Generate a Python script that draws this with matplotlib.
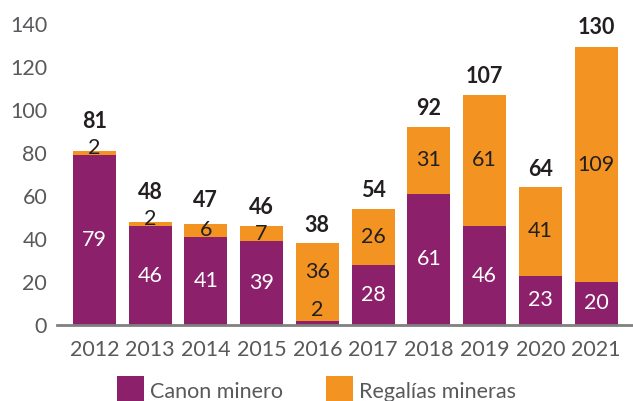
import matplotlib
matplotlib.use("Agg")
import matplotlib.pyplot as plt
from matplotlib.patches import Patch

plt.rcParams['font.family'] = ['Lato', 'DejaVu Sans']

years = ["2012", "2013", "2014", "2015", "2016", "2017", "2018", "2019", "2020", "2021"]
canon = [79, 46, 41, 39, 2, 28, 61, 46, 23, 20]
regalias = [2, 2, 6, 7, 36, 26, 31, 61, 41, 109]
totals = [81, 48, 47, 46, 38, 54, 92, 107, 64, 130]

PURPLE = "#8c206a"
ORANGE = "#f29322"
DARK = "#231f20"
GREY = "#58595b"

fig = plt.figure(figsize=(6.33, 4.01), dpi=100)
ax = fig.add_axes([0.090, 0.1895, 0.908, 0.7515])

x = list(range(len(years)))
ax.bar(x, canon, width=0.77, color=PURPLE)
ax.bar(x, regalias, width=0.77, bottom=canon, color=ORANGE)

fs = 15.5
for i in x:
    c, r, t = canon[i], regalias[i], totals[i]
    if c < 5:
        # tiny purple segment: label sits inside the orange part
        ax.annotate(str(c), (i, c), xytext=(0, 8), textcoords="offset points",
                    ha="center", va="center", fontsize=fs, color=DARK)
        ax.annotate(str(r), (i, t), xytext=(0, -21), textcoords="offset points",
                    ha="center", va="center", fontsize=fs, color=DARK)
    else:
        ax.text(i, c / 2, str(c), ha="center", va="center", fontsize=fs, color="white")
        if r < 5:
            ax.annotate(str(r), (i, c), xytext=(0, 5), textcoords="offset points",
                        ha="center", va="center", fontsize=fs, color=DARK)
        else:
            ax.text(i, c + r / 2, str(r), ha="center", va="center", fontsize=fs, color=DARK)
    if r < 5:
        off = 21
    elif r < 7:
        off = 17
    else:
        off = 13
    ax.annotate(str(t), (i, t), xytext=(0, off), textcoords="offset points",
                ha="center", va="center", fontsize=fs, fontweight="bold", color=DARK)

ax.set_xlim(-0.67, 9.64)
ax.set_ylim(0, 140)
ax.set_yticks(range(0, 141, 20))
ax.set_xticks(x)
ax.set_xticklabels(years)
ax.tick_params(axis="both", length=0, labelsize=fs, labelcolor=GREY)
ax.tick_params(axis="y", pad=7)
ax.tick_params(axis="x", pad=11)
for side in ["top", "right", "left"]:
    ax.spines[side].set_visible(False)
ax.spines["bottom"].set_color("#808080")
ax.spines["bottom"].set_linewidth(2)

handles = [Patch(facecolor=PURPLE), Patch(facecolor=ORANGE)]
fig.legend(handles, ["Canon minero", "Regalías mineras"], loc="center",
           bbox_to_anchor=(0.5, 0.025), ncol=2, frameon=False, fontsize=fs,
           labelcolor=GREY, handlelength=1.25, handleheight=1.7,
           handletextpad=0.3, columnspacing=2.0)

fig.savefig("out.png", dpi=100)
